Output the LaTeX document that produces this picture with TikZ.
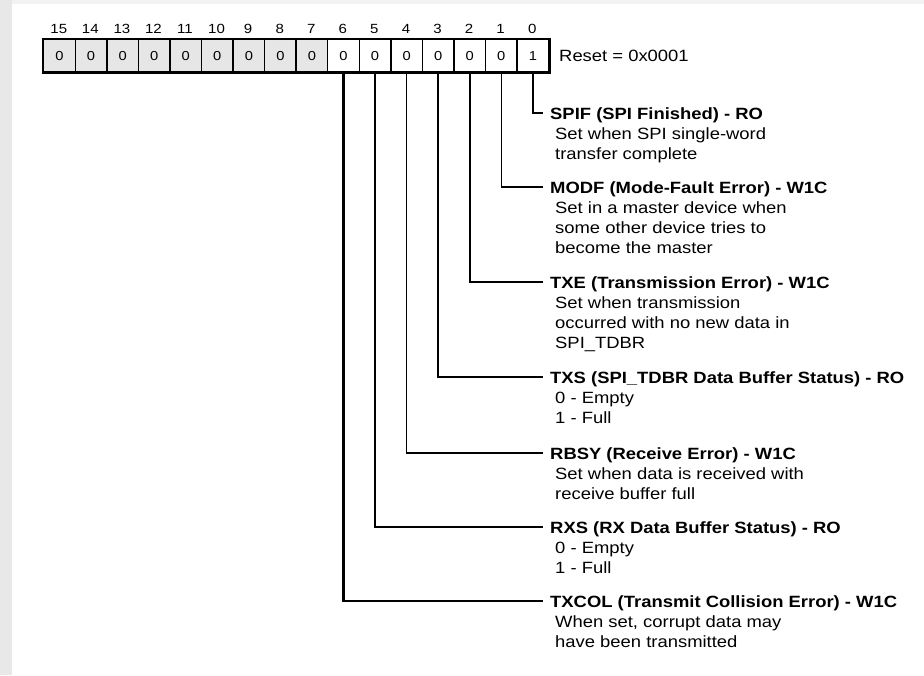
\documentclass[tikz,border=0pt]{standalone}
\usepackage{fontspec}
\setmainfont{Liberation Sans}[FakeStretch=1.13]
\usetikzlibrary{calc}
\definecolor{regray}{HTML}{E6E6E6}
\definecolor{edgegray}{HTML}{E8E8E8}
\begin{document}
\begin{tikzpicture}[x=1pt,y=-1pt,
  cell/.style={draw, line width=1.4pt, minimum width=31.56pt, minimum height=32pt,
    inner sep=0pt, font=\fontsize{13}{15}\selectfont, anchor=north west},
  res/.style={cell, fill=regray},
  bitnum/.style={font=\fontsize{13.3}{15}\selectfont, anchor=base, inner sep=0pt},
  head/.style={font=\fontsize{16.3}{20}\selectfont\bfseries, anchor=base west, inner sep=0pt},
  desc/.style={font=\fontsize{16.3}{20}\selectfont, anchor=base west, inner sep=0pt},
  thickc/.style={line width=2.4pt},
  thinc/.style={line width=1.4pt}]
\useasboundingbox (0,0) rectangle (924,675);
% page edges
\fill[edgegray] (0,0) rectangle (12,675);
\fill[black!5] (12,0) rectangle (924,4);
% register cells
\foreach \b in {15,...,7}
  \node[res] (c\b) at ({43+(15-\b)*31.56},39) {0};
\foreach \b in {6,...,1}
  \node[cell] (c\b) at ({43+(15-\b)*31.56},39) {0};
\node[cell] (c0) at ({43+15*31.56},39) {1};
\draw[line width=2.4pt] (c15.north west) rectangle (c0.south east);
% bit numbers
\foreach \b in {15,...,0}
  \node[bitnum] (n\b) at ({43+(15.5-\b)*31.56},33) {\b};
\node[desc] (reset) at (559,61) {Reset = 0x0001};
% field descriptions
\node[head] (h0) at (550,119) {SPIF (SPI Finished) - RO};
\node[desc] (d0) at (555,139) {\begin{tabular}[t]{@{}l@{}}Set when SPI single-word\\transfer complete\end{tabular}};
\node[head] (h1) at (550,193) {MODF (Mode-Fault Error) - W1C};
\node[desc] (d1) at (555,213) {\begin{tabular}[t]{@{}l@{}}Set in a master device when\\some other device tries to\\become the master\end{tabular}};
\node[head] (h2) at (550,288) {TXE (Transmission Error) - W1C};
\node[desc] (d2) at (555,308) {\begin{tabular}[t]{@{}l@{}}Set when transmission\\occurred with no new data in\\SPI\_TDBR\end{tabular}};
\node[head] (h3) at (550,383) {TXS (SPI\_TDBR Data Buffer Status) - RO};
\node[desc] (d3) at (555,403) {\begin{tabular}[t]{@{}l@{}}0 - Empty\\1 - Full\end{tabular}};
\node[head] (h4) at (550,459) {RBSY (Receive Error) - W1C};
\node[desc] (d4) at (555,479) {\begin{tabular}[t]{@{}l@{}}Set when data is received with\\receive buffer full\end{tabular}};
\node[head] (h5) at (550,533) {RXS (RX Data Buffer Status) - RO};
\node[desc] (d5) at (555,553) {\begin{tabular}[t]{@{}l@{}}0 - Empty\\1 - Full\end{tabular}};
\node[head] (h6) at (550,607) {TXCOL (Transmit Collision Error) - W1C};
\node[desc] (d6) at (555,627) {\begin{tabular}[t]{@{}l@{}}When set, corrupt data may\\have been transmitted\end{tabular}};
% connectors
\draw[thickc] (c0.south) |- ([shift={(-7,-6)}]h0.base west);
\draw[thinc]  (c1.south) |- ([shift={(-7,-6)}]h1.base west);
\draw[thickc] (c2.south) |- ([shift={(-7,-6)}]h2.base west);
\draw[thickc] (c3.south) |- ([shift={(-7,-6)}]h3.base west);
\draw[thinc]  (c4.south) |- ([shift={(-7,-6)}]h4.base west);
\draw[thinc]  (c5.south) |- ([shift={(-7,-6)}]h5.base west);
\draw[thickc] (c6.south) |- ([shift={(-7,-6)}]h6.base west);
\end{tikzpicture}
\end{document}
